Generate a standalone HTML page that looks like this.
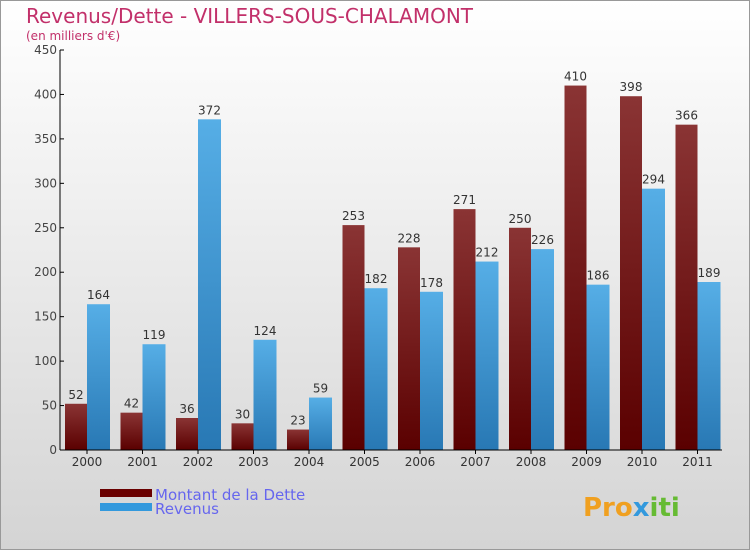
<!DOCTYPE html>
<html><head><meta charset="utf-8"><style>
body{margin:0;}
#c{width:750px;height:550px;position:relative;font-family:"DejaVu Sans","Liberation Sans",sans-serif;}
</style></head><body>
<div id="c">
<svg id="svg" width="750" height="550" xmlns="http://www.w3.org/2000/svg">
<defs>
<linearGradient id="bg" x1="0" y1="0" x2="0" y2="1"><stop offset="0" stop-color="#ffffff"/><stop offset="1" stop-color="#d4d4d4"/></linearGradient>
<linearGradient id="gd" x1="0" y1="0" x2="0" y2="1"><stop offset="0" stop-color="#8a3434"/><stop offset="1" stop-color="#5a0000"/></linearGradient>
<linearGradient id="gr" x1="0" y1="0" x2="0" y2="1"><stop offset="0" stop-color="#56aee6"/><stop offset="1" stop-color="#2878b4"/></linearGradient>
</defs>
<rect x="0.5" y="0.5" width="749" height="549" fill="url(#bg)" stroke="#999"/>
<text x="26" y="23" font-size="20" fill="#c2306a">Revenus/Dette - VILLERS-SOUS-CHALAMONT</text>
<text x="26" y="40" font-size="12" fill="#c2306a">(en milliers d'€)</text>
<g id="plot"></g>
<rect x="100" y="489" width="52" height="8" fill="#6a0000"/>
<rect x="100" y="503" width="52" height="8" fill="#3399dd"/>
<text x="155" y="500" font-size="15" fill="#6666ee">Montant de la Dette</text>
<text x="155" y="514" font-size="15" fill="#6666ee">Revenus</text>
<text x="583" y="516" font-size="26" font-weight="bold" fill="#f0a020">Pro<tspan fill="#3399dd">x</tspan><tspan fill="#66bb33">iti</tspan></text>
</svg>
</div>
<script>
const years=["2000","2001","2002","2003","2004","2005","2006","2007","2008","2009","2010","2011"];
const dette=[52,42,36,30,23,253,228,271,250,410,398,366];
const revenus=[164,119,372,124,59,182,178,212,226,186,294,189];
const ticks=[0,50,100,150,200,250,300,350,400,450];
const NS="http://www.w3.org/2000/svg";
const g=document.getElementById('plot');
const y0=450,ppu=400/450,x0=60;
function y(v){return y0-v*ppu;}
function cx(i){return 87+i*55.5;}
function mk(t,a,p){const e=document.createElementNS(NS,t);for(const k in a)e.setAttribute(k,a[k]);(p||g).appendChild(e);return e;}
ticks.forEach(t=>{
 const l=mk('line',{x1:x0,x2:x0+4,y1:y(t),y2:y(t),stroke:'#000'});
 
 
 const tx=mk('text',{x:x0-3,y:y(t)+4,'font-size':12,'text-anchor':'end',fill:'#444'});
 tx.textContent=t;
 
 
});
years.forEach((yr,i)=>{
 const c=cx(i);
 const b1=mk('rect',{x:c-22,y:y(dette[i]),width:22,height:dette[i]*ppu,fill:'url(#gd)'});
 
 
 const b2=mk('rect',{x:c,y:y(revenus[i]),width:23,height:revenus[i]*ppu,fill:'url(#gr)'});
 
 
 const v1=mk('text',{x:c-11,y:y(dette[i])-5,'font-size':12,'text-anchor':'middle',fill:'#333'});
 v1.textContent=dette[i];
 
 
 const v2=mk('text',{x:c+11.5,y:y(revenus[i])-5,'font-size':12,'text-anchor':'middle',fill:'#333'});
 v2.textContent=revenus[i];
 
 
 const tk=mk('line',{x1:c,x2:c,y1:y0,y2:y0+4,stroke:'#000'});
 
 
 const xl=mk('text',{x:c,y:y0+16,'font-size':12,'text-anchor':'middle',fill:'#333'});
 xl.textContent=yr;
 
 
});
const ya=mk('line',{x1:x0,x2:x0,y1:50,y2:y0,stroke:'#000'});


const xa=mk('line',{x1:x0,x2:722,y1:y0,y2:y0,stroke:'#000'});


</script>
</body></html>
